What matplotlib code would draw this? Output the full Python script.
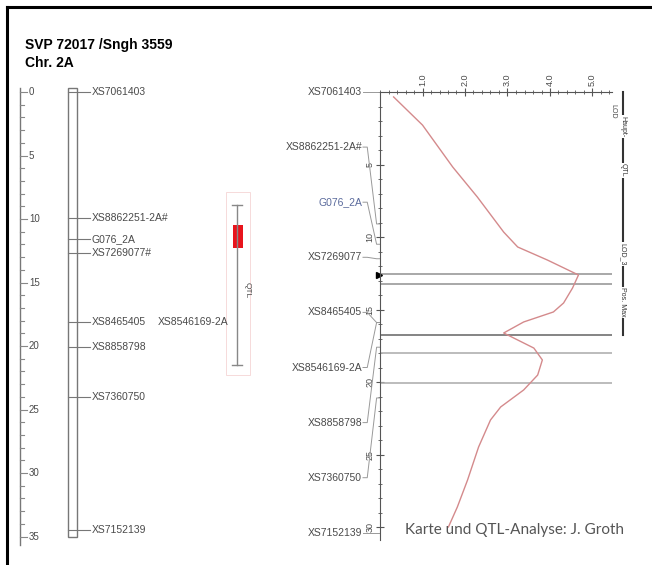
import numpy as np
import matplotlib
matplotlib.use("Agg")
import matplotlib.pyplot as plt
from matplotlib.patches import Rectangle
from matplotlib.lines import Line2D

# Genetische Karte Chr. 2A (Positionen in cM)
map_names = ["XS7061403", "XS8862251-2A#", "G076_2A", "XS7269077#", "XS8465405",
             "XS8546169-2A", "XS8858798", "XS7360750", "XS7152139"]
map_cm = [0.0, 9.9, 11.6, 12.7, 18.1, 18.1, 20.1, 24.0, 34.5]

# QTL-Intervall auf der Karte
qtl_interval = [8.9, 21.5]
qtl_peak = [10.5, 12.3]

# Marker im LOD-Diagramm (eigene cM-Skala)
lod_names = ["XS7061403", "XS8862251-2A#", "G076_2A", "XS7269077", "XS8465405",
             "XS8546169-2A", "XS8858798", "XS7360750", "XS7152139"]
lod_marker_cm = [0.0, 9.1, 10.5, 11.5, 15.9, 15.9, 17.6, 21.1, 30.4]

# LOD-Kurve
curve_lod = [0.32, 1.00, 1.71, 2.29, 2.91, 3.24, 3.94, 4.67, 4.53, 4.32, 4.08, 3.38,
             2.91, 3.62, 3.82, 3.71, 3.38, 2.84, 2.60, 2.32, 2.06, 1.82, 1.61]
curve_cm = [0.34, 2.28, 5.17, 7.24, 9.66, 10.69, 11.59, 12.62, 13.52, 14.55, 15.17, 15.86,
            16.62, 17.66, 18.48, 19.52, 20.55, 21.72, 22.62, 24.48, 26.76, 28.62, 30.0]

# horizontale Linien im LOD-Diagramm
hline_cm = [12.55, 13.24, 16.76, 18.0, 20.07]
hline_col = ["#9a9a9a", "#9a9a9a", "#707070", "#b0b0b0", "#b0b0b0"]

W, H = 652, 565
fig = plt.figure(figsize=(W / 100, H / 100), dpi=100)
plt.rcParams["font.family"] = ["Liberation Sans", "DejaVu Sans"]


def rect(x0, y0, x1, y1):
    return [x0 / W, 1 - y1 / H, (x1 - x0) / W, (y1 - y0) / H]


txt = "#4a4a4a"

# Rahmen oben und links
fig.add_artist(Line2D([7 / W, 7 / W], [0, 1 - 7 / H], color="black", lw=2.2))
fig.add_artist(Line2D([7 / W, 1], [1 - 7 / H, 1 - 7 / H], color="black", lw=2.2))

fig.text(25 / W, 1 - 45 / H, "SVP 72017 /Sngh 3559", fontsize=10, weight="bold", va="center")
fig.text(25 / W, 1 - 63 / H, "Chr. 2A", fontsize=10, weight="bold", va="center")

# ---- Karte links ----
ax_map = fig.add_axes([0, 0, 300 / W, 1])
ax_map.set_xlim(0, 300)
ax_map.set_ylim((H - 92) / 12.7, -92 / 12.7)
ax_map.axis("off")

ax_map.plot([20, 20], [-0.3, 35.7], color="#777777", lw=1)
for c in range(0, 36):
    ln = 7 if c % 5 == 0 else 4
    ax_map.plot([20, 20 + ln], [c, c], color="#888888", lw=0.8)
    if c % 5 == 0:
        ax_map.text(29, c, str(c), fontsize=7, color=txt, va="center")

ax_map.add_patch(Rectangle((68, -0.3), 9, 35.3, fill=False, ec="#777777", lw=1))
prev = None
for name, c in zip(map_names, map_cm):
    x = 92
    if prev is not None and c == prev:
        x = 158
    else:
        ax_map.plot([68, 90], [c, c], color="#777777", lw=0.8)
    ax_map.text(x, c, name, fontsize=7.5, color=txt, va="center")
    prev = c

ax_map.add_patch(Rectangle((226, 7.9), 24, 14.4, fill=False, ec="#f5d5d5", lw=0.6))
ax_map.plot([237, 237], qtl_interval, color="#888888", lw=1)
for c in qtl_interval:
    ax_map.plot([232, 242], [c, c], color="#888888", lw=1)
ax_map.add_patch(Rectangle((232.5, qtl_peak[0]), 10, qtl_peak[1] - qtl_peak[0],
                           fc="#e8141c", ec="none"))
ax_map.text(247, 15.6, "QTL", fontsize=6, color=txt, rotation=270, va="center", ha="center")

# ---- LOD-Diagramm rechts ----
px_lod, px_cm = 42.5, 14.5
ax = fig.add_axes(rect(380, 92, 612, 540))
ax.set_xlim(0, 232 / px_lod)
ax.set_ylim(448 / px_cm, 0)
ax.patch.set_alpha(0)
for s in ["right", "bottom"]:
    ax.spines[s].set_visible(False)
for s in ["left", "top"]:
    ax.spines[s].set_color("#555555")
ax.xaxis.tick_top()
ax.set_xticks([1, 2, 3, 4, 5])
ax.set_xticklabels(["1.0", "2.0", "3.0", "4.0", "5.0"], rotation=90)
ax.set_xticks(np.arange(0, 5.5, 0.2), minor=True)
ax.set_yticks([5, 10, 15, 20, 25, 30])
ax.set_yticklabels(["5", "10", "15", "20", "25", "30"], rotation=90, va="center")
ax.set_yticks(np.arange(0, 31, 1), minor=True)
ax.tick_params(which="both", direction="inout", colors="#555555", labelsize=6.5,
               labelcolor=txt)
ax.tick_params(which="major", length=6, pad=1)
ax.tick_params(which="minor", length=3)

ax.hlines(hline_cm, 0, 232 / px_lod, colors=hline_col, lw=1.2, clip_on=False)
ax.plot(curve_lod, curve_cm, color="#d48a8c", lw=1)
peak = curve_cm[int(np.argmax(curve_lod))]
ax.plot(-0.03, peak, marker=">", ms=4, color="black", clip_on=False)

# Markerbeschriftung mit Verbindungslinien
lab_cm = np.linspace(0, lod_marker_cm[-1], len(lod_names))
for name, c, lc in zip(lod_names, lod_marker_cm, lab_cm):
    col = "#5a6a9c" if name.startswith("G076") else txt
    ax.text(-0.42, lc, name, fontsize=7.5, color=col, ha="right", va="center", clip_on=False)
    ax.plot([-0.4, -0.3, -0.08, 0], [lc, lc, c, c], color="#999999", lw=0.7, clip_on=False)

# Beschriftung rechts
ax.plot([243 / px_lod, 243 / px_lod], [0, 16.76], color="#333333", lw=1.5, clip_on=False)
ax.text(233 / px_lod, 1.3, "LOD", fontsize=5, color=txt, rotation=270, ha="center",
        va="center", clip_on=False)
for c, s in zip([2.4, 5.4, 11.2, 14.5], ["Haupt-", "QTL", "LOD_3", "Pos. Max"]):
    ax.text(243 / px_lod, c, s, fontsize=5, color="#333333", rotation=270, ha="center",
            va="center", clip_on=False,
            bbox=dict(fc="white", ec="none", pad=0.5))

fig.text(405 / W, 1 - 530 / H, "Karte und QTL-Analyse: J. Groth", fontsize=11,
         color="#555555", family=["Lato", "DejaVu Sans"], va="center")

fig.savefig("out.png", dpi=100)
